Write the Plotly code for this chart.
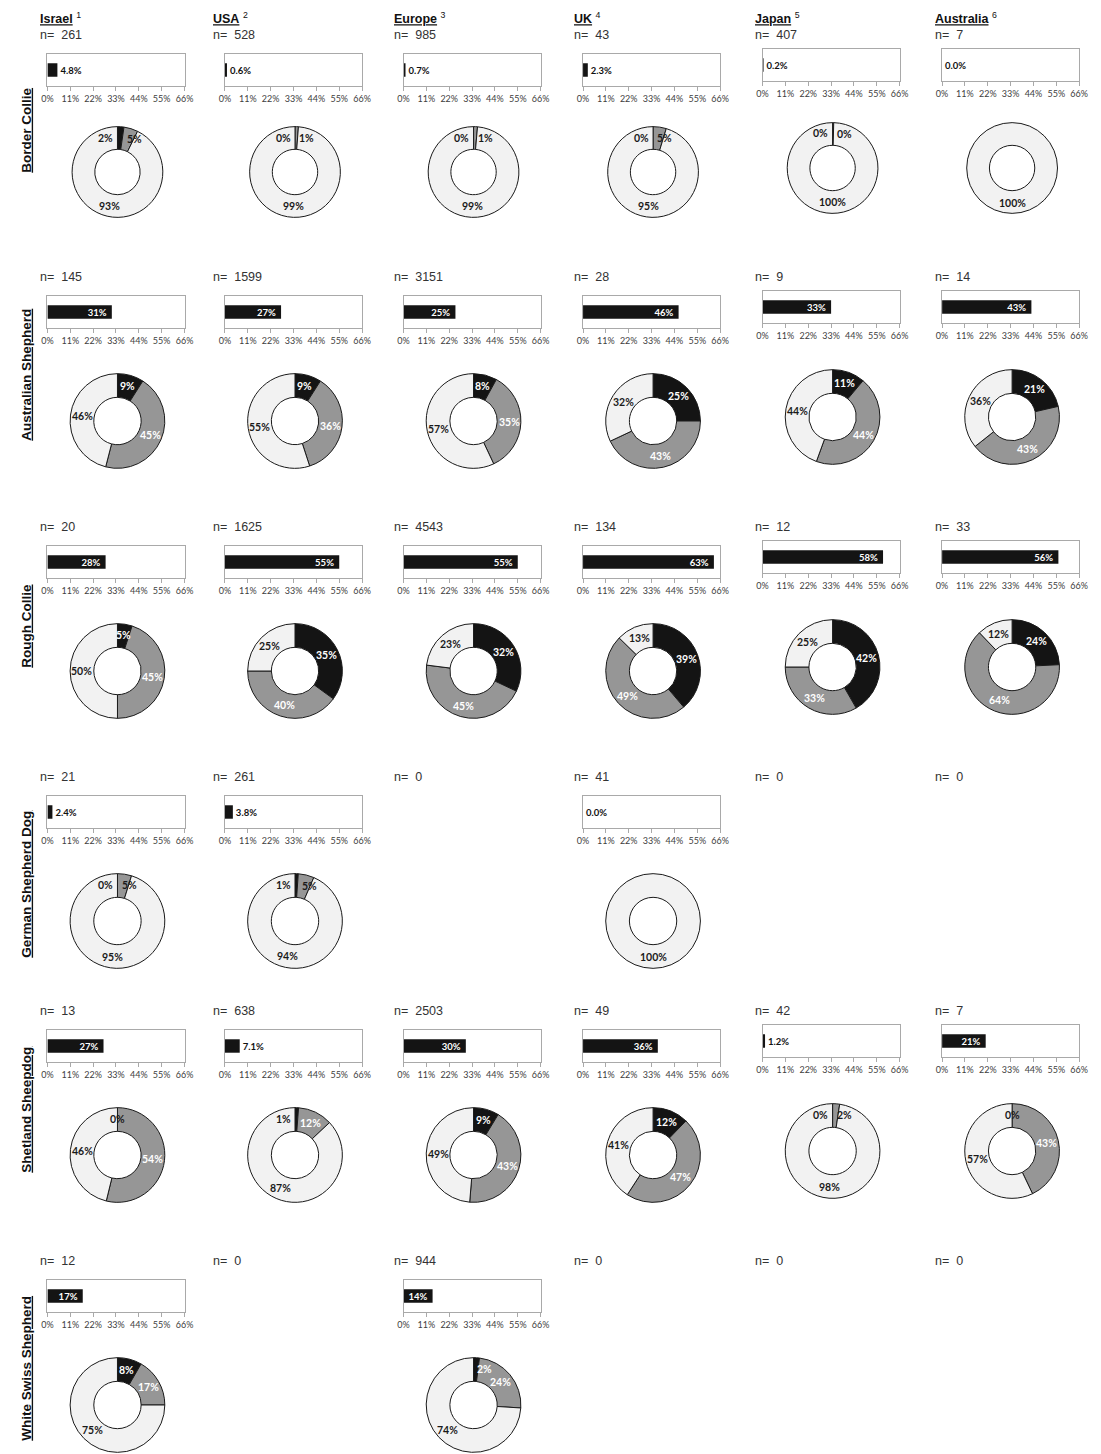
import math
import plotly.graph_objects as go

# ---------------------------------------------------------------------------
# Data
# ---------------------------------------------------------------------------
regions = ["Israel", "USA", "Europe", "UK", "Japan", "Australia"]
region_refs = ["1", "2", "3", "4", "5", "6"]
breeds = ["Border Collie", "Australian Shepherd", "Rough Collie",
          "German Shepherd Dog", "Shetland Sheepdog", "White Swiss Shepherd"]

# number of dogs tested (rows = breeds, columns = regions)
sample_sizes = [
    [261, 528, 985, 43, 407, 7],
    [145, 1599, 3151, 28, 9, 14],
    [20, 1625, 4543, 134, 12, 33],
    [21, 261, 0, 41, 0, 0],
    [13, 638, 2503, 49, 42, 7],
    [12, 0, 944, 0, 0, 0],
]

# mutant allele frequency, %
allele_freq = [
    [4.8, 0.6, 0.7, 2.3, 0.2, 0.0],
    [31, 27, 25, 46, 33, 43],
    [28, 55, 55, 63, 58, 56],
    [2.4, 3.8, None, 0.0, None, None],
    [27, 7.1, 30, 36, 1.2, 21],
    [17, None, 14, None, None, None],
]

# genotype shares, % : mutant/mutant, carrier, normal/normal
pct_mut_mut = [
    [2.3, 0, 0, 0, 0, 0],
    [9.0, 9.0, 8.0, 25.0, 11.1, 21.4],
    [5.0, 35.0, 32.0, 38.8, 41.7, 24.2],
    [0, 1.1, None, 0, None, None],
    [0, 1.2, 8.7, 12.2, 0, 0],
    [8.3, None, 2.0, None, None, None],
]
pct_carrier = [
    [5.0, 1.2, 1.4, 4.7, 0.4, 0],
    [45.0, 36.0, 35.0, 43.0, 44.4, 42.9],
    [45.0, 40.0, 45.0, 48.5, 33.3, 63.6],
    [4.8, 5.4, None, 0, None, None],
    [53.8, 11.8, 42.6, 46.9, 2.4, 42.9],
    [16.7, None, 24.0, None, None, None],
]
pct_normal = [
    [92.7, 98.8, 98.6, 95.3, 99.6, 100],
    [46.0, 55.0, 57.0, 32.0, 44.4, 35.7],
    [50.0, 25.0, 23.0, 12.7, 25.0, 12.1],
    [95.2, 93.5, None, 100, None, None],
    [46.2, 87.0, 48.7, 40.8, 97.6, 57.1],
    [75.0, None, 74.0, None, None, None],
]

genotype_names = ["mut/mut", "carrier", "normal"]
axis_ticks = [0, 11, 22, 33, 44, 55, 66]

# ---------------------------------------------------------------------------
# Layout geometry (pixels)
# ---------------------------------------------------------------------------
W, H = 1101, 1454


def px(x):
    return x / W


def py(y):
    return 1 - y / H


header_x = [32, 208, 391, 574, 757, 940]
box_left = [42, 222, 403, 585, 767, 949]
box_w, box_h = 139, 32
col_box_dy = [0, 0, 0, 0, -5, -5]
col_pie_dy = [0, 0, 0, 0, -4, -4]
row_n_y = [35, 277, 527, 777, 1011, 1261]
row_box_top = [54, 296, 546, 796, 1030, 1280]
row_pie_cy = [172, 421, 671, 921, 1155, 1405]
row_pie_r = [46, 48, 48, 48, 48, 48]
row_label_y = [130, 375, 626, 884, 1110, 1368]

SLICE_COLORS = ["#141414", "#969696", "#f2f2f2"]
LABEL_COLORS = ["#ffffff", "#ffffff", "#1a1a1a"]
DARK = "#1a1a1a"
BOX_COLOR = "#a9a9a9"
SANS = "Liberation Sans, Arial, sans-serif"
CAL = "Lato, Carlito, Calibri, sans-serif"

fig = go.Figure()
annotations = []
layout_axes = {}


def fmt_freq(v):
    return f"{v:.1f}%" if v < 10 else f"{v:.0f}%"


# column headers
for c, region in enumerate(regions):
    annotations.append(dict(
        text=f"<b><u>{region}</u></b> <sup>{region_refs[c]}</sup>",
        x=px(header_x[c]), y=py(18), xref="paper", yref="paper",
        xanchor="left", yanchor="middle", showarrow=False,
        font=dict(family=SANS, size=12.5, color="#111111")))

# row titles
for r, breed in enumerate(breeds):
    annotations.append(dict(
        text=f"<b><u>{breed}</u></b>", textangle=-90,
        x=px(20), y=py(row_label_y[r]), xref="paper", yref="paper",
        xanchor="center", yanchor="middle", showarrow=False,
        font=dict(family=SANS, size=13.5, color="#111111")))

k = 0
for r in range(len(breeds)):
    for c in range(len(regions)):
        n = sample_sizes[r][c]
        annotations.append(dict(
            text=f"n=\u00a0\u00a0{n}",
            x=px(header_x[c]), y=py(row_n_y[r]), xref="paper", yref="paper",
            xanchor="left", yanchor="middle", showarrow=False,
            font=dict(family=SANS, size=12.5, color="#333333")))
        if n == 0:
            continue

        # ---- allele frequency bar ----
        k += 1
        xname = "x" if k == 1 else f"x{k}"
        yname = "y" if k == 1 else f"y{k}"
        xkey = "xaxis" if k == 1 else f"xaxis{k}"
        ykey = "yaxis" if k == 1 else f"yaxis{k}"
        freq = allele_freq[r][c]
        inside = freq >= 10
        fig.add_trace(go.Bar(
            x=[freq], y=[0], orientation="h", width=0.42,
            marker=dict(color="#141414", line=dict(width=0)),
            text=[fmt_freq(freq) + ("\u00a0" if inside else "")],
            textposition="inside" if inside else "outside",
            insidetextanchor="end", constraintext="none",
            textfont=dict(family=CAL, size=9.5, weight="bold",
                          color="#ffffff" if inside else "#111111"),
            cliponaxis=False, hoverinfo="skip", showlegend=False,
            xaxis=xname, yaxis=yname))
        left = box_left[c]
        top = row_box_top[r] + col_box_dy[c]
        layout_axes[xkey] = dict(
            domain=[px(left), px(left + box_w)], range=[0, 66],
            tickvals=axis_ticks, ticktext=[f"{t}%" for t in axis_ticks],
            anchor=yname, showline=True, linecolor=BOX_COLOR, linewidth=1,
            mirror=True, ticks="outside", ticklen=4, tickcolor=BOX_COLOR,
            showgrid=False, zeroline=False, fixedrange=True,
            tickfont=dict(family=CAL, size=9, color="#404040"))
        layout_axes[ykey] = dict(
            domain=[py(top + box_h), py(top)], range=[-0.5, 0.5],
            anchor=xname, showline=True, linecolor=BOX_COLOR, linewidth=1,
            mirror=True, showticklabels=False, ticks="",
            showgrid=False, zeroline=False, fixedrange=True)

        # ---- genotype donut (empty genotype classes are left out) ----
        shares = [pct_mut_mut[r][c], pct_carrier[r][c], pct_normal[r][c]]
        keep = [i for i, s in enumerate(shares) if s > 0]
        R = row_pie_r[r]
        cx = box_left[c] + 71
        cy = row_pie_cy[r] + col_pie_dy[c]
        fig.add_trace(go.Pie(
            values=[shares[i] for i in keep],
            labels=[genotype_names[i] for i in keep],
            marker=dict(colors=[SLICE_COLORS[i] for i in keep],
                        line=dict(color="#1a1a1a", width=1)),
            hole=0.5, sort=False, direction="clockwise", rotation=0,
            textinfo="none", hoverinfo="skip", showlegend=False,
            domain=dict(x=[px(cx - R), px(cx + R)],
                        y=[py(cy + R), py(cy - R)])))

        # slice labels at the middle of the ring, on each slice's mid-angle
        r_mid = 0.75 * R
        nonzero = len(keep)
        cum = 0.0
        for i, s in enumerate(shares):
            mid = cum + s / 2
            cum += s
            if s == 0 and nonzero == 1:
                continue
            theta = mid / 100 * 2 * math.pi
            dx = r_mid * math.sin(theta)
            dy = -r_mid * math.cos(theta)
            anchor = "center"
            color = LABEL_COLORS[i]
            lx = cx + dx
            if i == 0 and s < 3.5:
                if s == 0 and shares[1] >= 10:
                    color = DARK
                elif s > 0 and shares[1] >= 20:
                    anchor = "left"
                    lx = cx + 1
                else:
                    anchor = "right"
                    lx = cx - 2.5
                    color = DARK
            elif i == 1 and s < 6:
                anchor = "left"
                lx = cx + max(2, dx - 3)
                color = DARK
            annotations.append(dict(
                text=f"<b>{int(s + 0.5)}%</b>",
                x=px(lx), y=py(cy + dy), xref="paper", yref="paper",
                xanchor=anchor, yanchor="middle", showarrow=False,
                font=dict(family=CAL, size=10.5, color=color)))

fig.update_layout(
    width=W, height=H, autosize=False,
    margin=dict(l=0, r=0, t=0, b=0, pad=0),
    paper_bgcolor="white", plot_bgcolor="white",
    showlegend=False, annotations=annotations,
    **layout_axes)

fig.write_html("out.html", config={"displayModeBar": False})
